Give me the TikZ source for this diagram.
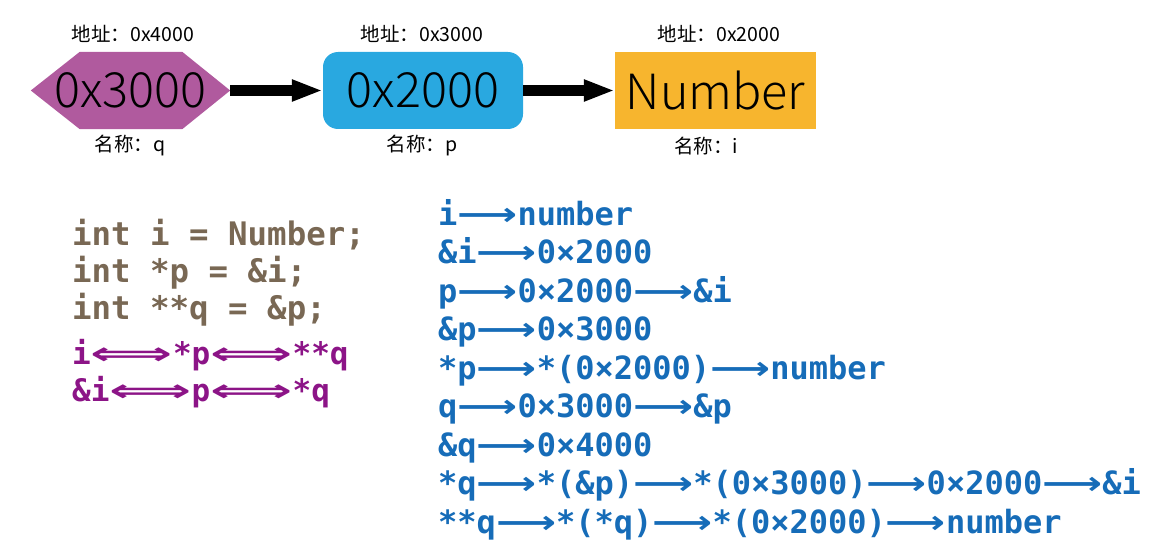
\documentclass[tikz,border=0pt]{standalone}
\usepackage{fontspec}
\usepackage{graphicx}
\usetikzlibrary{arrows.meta,calc}
\setmainfont{DejaVu Sans}
\newfontfamily\cjk{Noto Sans CJK SC}
\newfontfamily\cjklight{Noto Sans CJK SC Light}
\newfontfamily\mono{DejaVu Sans Mono}
\newfontfamily\arrf{DejaVu Sans}
\newcommand{\ra}{\scalebox{1.31}[1]{\arrf\bfseries ⟶}}
\newcommand{\lra}{\scalebox{1.85}[1]{\arrf\bfseries ⟺}}
\definecolor{hexc}{RGB}{176,90,158}
\definecolor{boxb}{RGB}{41,168,224}
\definecolor{boxo}{RGB}{247,181,46}
\definecolor{codec}{RGB}{121,104,84}
\definecolor{purp}{RGB}{140,20,135}
\definecolor{blu}{RGB}{22,108,184}
\tikzset{
  memnode/.style={minimum width=200pt,minimum height=77pt,inner sep=0pt,
    font=\cjklight\fontsize{48.5}{48.5}\selectfont},
  toplabel/.style={font=\cjk\fontsize{19.5}{19.5}\selectfont,inner sep=0pt},
  bigarrow/.style={line width=11pt,-{Triangle[length=31pt,width=20pt]}},
  codeline/.style={anchor=base west,inner sep=0pt,text=codec,font=\mono\bfseries\fontsize{32.4}{32.4}\selectfont},
  eqline/.style={anchor=base west,inner sep=0pt,text=purp,font=\mono\bfseries\fontsize{31}{31}\selectfont},
  evline/.style={anchor=base west,inner sep=0pt,text=blu,font=\mono\bfseries\fontsize{32}{32}\selectfont},
}
\begin{document}
\begin{tikzpicture}[x=1pt,y=-1pt]
\useasboundingbox (0,0) rectangle (1164,559);
% memory nodes
\node[memnode,minimum width=199pt] (q) at (130.5,90.5) {};
\fill[hexc] (q.west) -- ($(q.north west)+(49,0)$) -- ($(q.north east)+(-48,0)$) -- (q.east)
  -- ($(q.south east)+(-48,0)$) -- ($(q.south west)+(49,0)$) -- cycle;
\node[memnode] at (q.center) {0x3000};
\node[memnode,fill=boxb,rounded corners=15pt] (p) at (423,90.5) {0x2000};
\node[memnode,fill=boxo,minimum width=201pt] (i) at (715.5,90.5) {Number};
\draw[bigarrow] (q.east) -- (p.west);
\draw[bigarrow] (p.east) -- (i.west);
% labels
\node[toplabel] (qa) at (133,34) {地址：0x4000};
\node[toplabel] (pa) at (422,34) {地址：0x3000};
\node[toplabel] (ia) at (719,34) {地址：0x2000};
\node[toplabel] (qn) at (130,146) {名称：q};
\node[toplabel] (pn) at (422,146) {名称：p};
\node[toplabel] (in) at (706,146) {名称：i};
% code
\node[codeline] (c1) at (72,245) {int i = Number;};
\node[codeline] (c2) at (72,282) {int *p = \&i;};
\node[codeline] (c3) at (72,319) {int **q = \&p;};
\node[eqline] (e1) at (72,364) {i\lra*p\lra**q};
\node[eqline] (e2) at (72,401) {\&i\lra p\lra*q};
% evaluations
\node[evline] (v1) at (438,225) {i\ra number};
\node[evline] (v2) at (438,263.5) {\&i\ra 0×2000};
\node[evline] (v3) at (438,302) {p\ra 0×2000\ra\&i};
\node[evline] (v4) at (438,340.5) {\&p\ra 0×3000};
\node[evline] (v5) at (438,379) {*p\ra*(0×2000)\ra number};
\node[evline] (v6) at (438,417.5) {q\ra 0×3000\ra\&p};
\node[evline] (v7) at (438,456) {\&q\ra 0×4000};
\node[evline] (v8) at (438,494.5) {*q\ra*(\&p)\ra*(0×3000)\ra 0×2000\ra\&i};
\node[evline] (v9) at (438,533) {**q\ra*(*q)\ra*(0×2000)\ra number};
\end{tikzpicture}
\end{document}
